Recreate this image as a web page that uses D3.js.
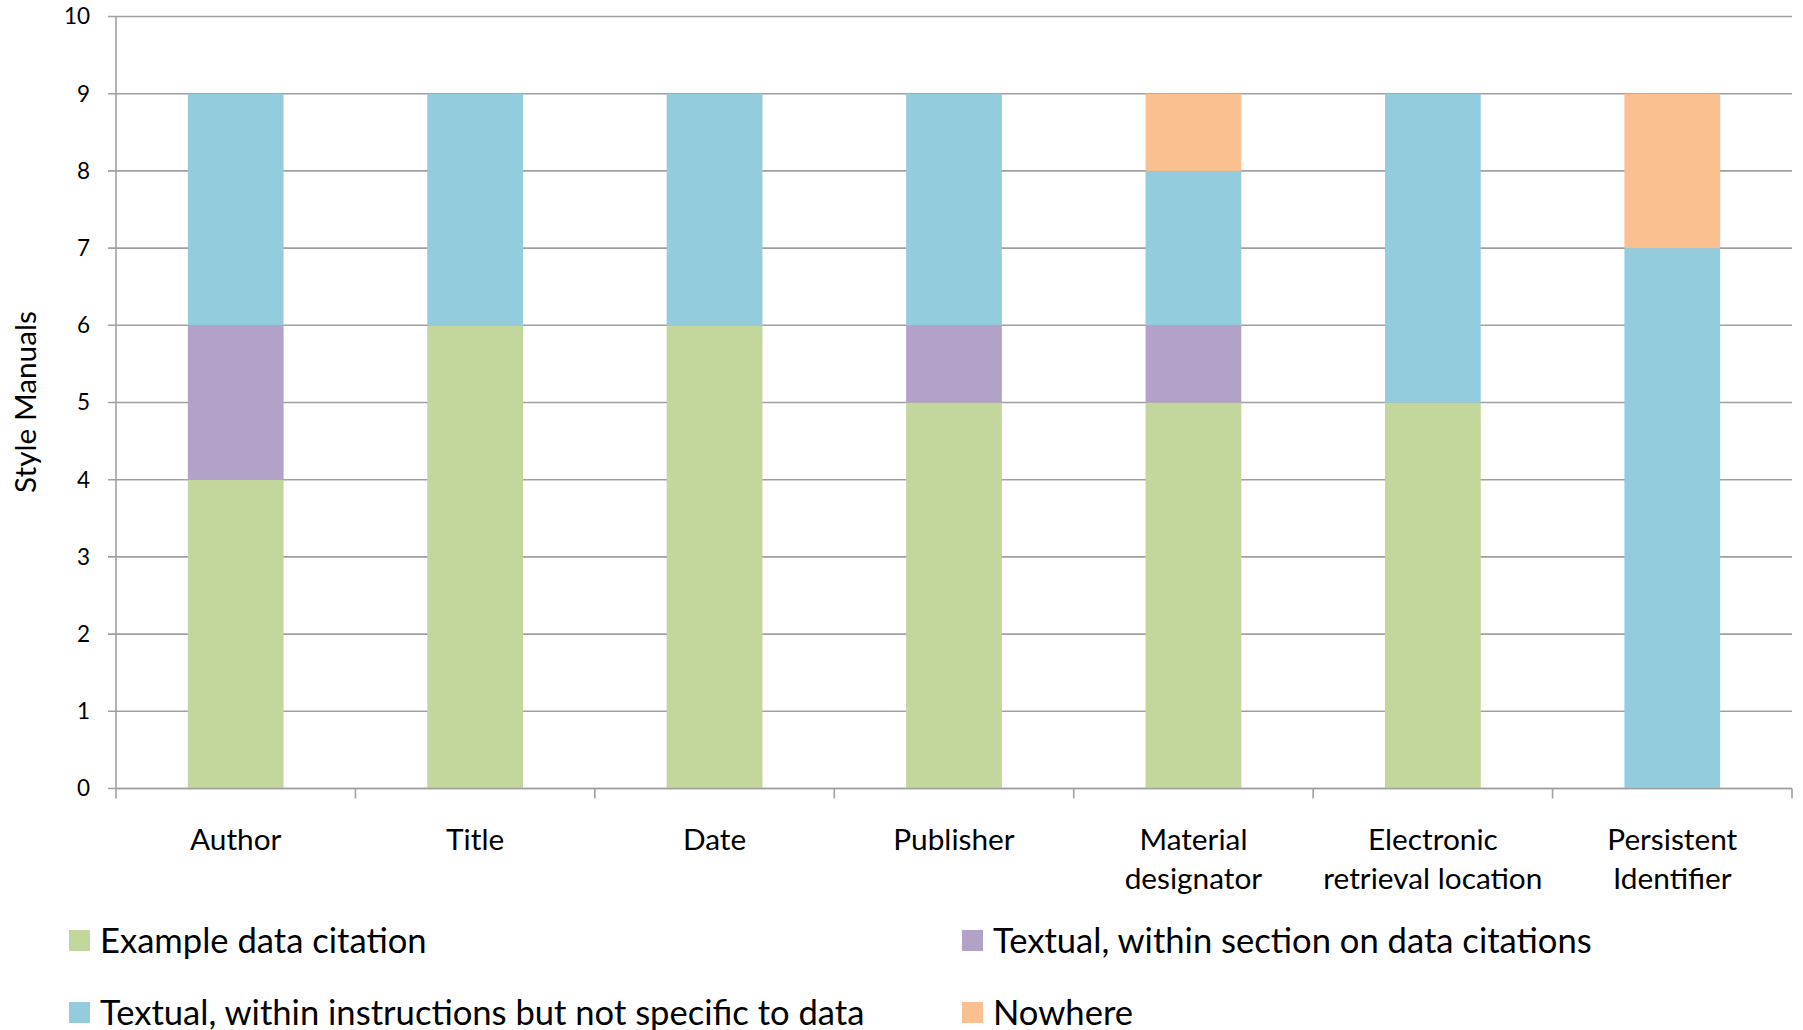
<!DOCTYPE html>
<html>
<head>
<meta charset="utf-8">
<script src="https://cdn.jsdelivr.net/npm/d3@7"></script>
<style>
  html, body { margin: 0; padding: 0; background: #fff; }
  svg { display: block; font-family: Lato, "Open Sans", sans-serif; }
</style>
</head>
<body>
<svg id="chart" width="1803" height="1030"></svg>
<script>
// Citation elements covered by style manuals, split by where the guidance appears
const categories = [
  ["Author"],
  ["Title"],
  ["Date"],
  ["Publisher"],
  ["Material", "designator"],
  ["Electronic", "retrieval location"],
  ["Persistent", "Identifier"]
];
const seriesNames = [
  "Example data citation",
  "Textual, within section on data citations",
  "Textual, within instructions but not specific to data",
  "Nowhere"
];
const exampleCitation   = [4, 6, 6, 5, 5, 5, 0];
const sectionOnData     = [2, 0, 0, 1, 1, 0, 0];
const generalInstruct   = [3, 3, 3, 3, 2, 4, 7];
const nowhere           = [0, 0, 0, 0, 1, 0, 2];
const yTicks = [0, 1, 2, 3, 4, 5, 6, 7, 8, 9, 10];
const colors = ["#C3D69B", "#B2A2C7", "#93CDDD", "#FAC090"];

const svg = d3.select("#chart");
const plotLeft = 116, plotRight = 1792, plotTop = 16.5, plotBottom = 788.5;

const rows = categories.map((c, i) => ({
  key: c.join(" "),
  s0: exampleCitation[i],
  s1: sectionOnData[i],
  s2: generalInstruct[i],
  s3: nowhere[i]
}));
const keys = ["s0", "s1", "s2", "s3"];
const stacked = d3.stack().keys(keys)(rows);

const x = d3.scaleBand().domain(rows.map(r => r.key)).range([plotLeft, plotRight]).paddingInner(0.6).paddingOuter(0.3);
const xBand = d3.scaleBand().domain(rows.map(r => r.key)).range([plotLeft, plotRight]);
const y = d3.scaleLinear().domain([0, 10]).range([plotBottom, plotTop]);

const gridColor = "#A0A0A0";

// horizontal gridlines with short tick stubs left of the axis
svg.append("g").selectAll("line").data(yTicks).join("line")
  .attr("x1", plotLeft - 8).attr("x2", plotRight)
  .attr("y1", d => y(d)).attr("y2", d => y(d))
  .attr("stroke", gridColor).attr("stroke-width", 1.6);

// bars
svg.append("g").selectAll("g").data(stacked).join("g")
  .attr("fill", (d, i) => colors[i])
  .selectAll("rect").data(d => d.filter(p => p[1] > p[0])).join("rect")
  .attr("x", d => x(d.data.key))
  .attr("width", x.bandwidth())
  .attr("y", d => y(d[1]))
  .attr("height", d => y(d[0]) - y(d[1]));

// y axis line
svg.append("line").attr("x1", plotLeft).attr("x2", plotLeft).attr("y1", plotTop).attr("y2", plotBottom)
  .attr("stroke", gridColor).attr("stroke-width", 1.6);

// x axis baseline and category boundary ticks
svg.append("line").attr("x1", plotLeft).attr("x2", plotRight).attr("y1", plotBottom).attr("y2", plotBottom)
  .attr("stroke", gridColor).attr("stroke-width", 1.6);
const bounds = rows.map(r => xBand(r.key)).concat([plotRight]);
svg.append("g").selectAll("line").data(bounds).join("line")
  .attr("x1", d => d).attr("x2", d => d)
  .attr("y1", plotBottom).attr("y2", plotBottom + 10)
  .attr("stroke", gridColor).attr("stroke-width", 1.6);

// y tick labels
svg.append("g").selectAll("text").data(yTicks).join("text")
  .attr("x", 90).attr("y", d => y(d))
  .attr("dy", "0.35em")
  .attr("text-anchor", "end")
  .attr("font-size", 22.5)
  .attr("fill", "#000")
  .text(d => d);

// category labels
const catG = svg.append("g").selectAll("text").data(categories).join("text")
  .attr("text-anchor", "middle")
  .attr("font-size", 29.8)
  .attr("fill", "#000")
  .attr("x", (d, i) => x(rows[i].key) + x.bandwidth() / 2)
  .attr("y", 850);
catG.selectAll("tspan").data(d => d).join("tspan")
  .attr("x", function () { return d3.select(this.parentNode).attr("x"); })
  .attr("dy", (d, i) => i === 0 ? 0 : 39)
  .text(d => d);

// y axis title
svg.append("text")
  .attr("transform", "translate(26," + 402 + ") rotate(-90)")
  .attr("text-anchor", "middle")
  .attr("dy", "0.35em")
  .attr("font-size", 29.8)
  .attr("fill", "#000")
  .text("Style Manuals");

// legend: two columns, two rows
const legendPos = [[69, 940.5], [962, 940.5], [69, 1012.5], [962, 1012.5]];
const order = [0, 1, 2, 3];
const leg = svg.append("g").selectAll("g").data(order).join("g")
  .attr("transform", (d, i) => `translate(${legendPos[i][0]},${legendPos[i][1]})`);
leg.append("rect").attr("x", 0).attr("y", -10.5).attr("width", 21).attr("height", 21)
  .attr("fill", d => colors[d]);
leg.append("text").attr("x", 31).attr("y", 0).attr("dy", "0.35em")
  .attr("font-size", 34.6).attr("fill", "#000")
  .text(d => seriesNames[d]);
</script>
</body>
</html>
